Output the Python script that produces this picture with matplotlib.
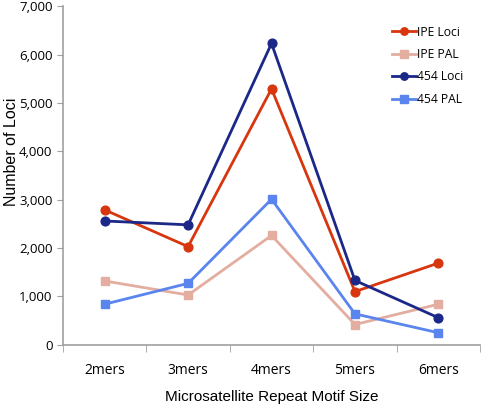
import matplotlib
matplotlib.use('Agg')
import matplotlib.pyplot as plt
from matplotlib.ticker import FuncFormatter, FixedLocator

# data
categories = ['2mers', '3mers', '4mers', '5mers', '6mers']
ipe_loci = [2790, 2030, 5290, 1100, 1690]
ipe_pal = [1320, 1030, 2260, 420, 840]
loci_454 = [2560, 2480, 6230, 1330, 560]
pal_454 = [840, 1270, 3010, 640, 250]

series = [
    ('IPE Loci', ipe_loci, '#d7360f', 'o'),
    ('IPE PAL', ipe_pal, '#e3ada0', 's'),
    ('454 Loci', loci_454, '#1b2888', 'o'),
    ('454 PAL', pal_454, '#5a84ee', 's'),
]

fig = plt.figure(figsize=(4.84, 4.11), dpi=100)
ax = fig.add_axes([0.130, 0.161, 0.862, 0.824])

x = list(range(len(categories)))
for label, vals, color, marker in series:
    ax.plot(x, vals, color=color, marker=marker, markersize=6.3, linewidth=2.0, label=label)

ax.set_xlim(-0.5, len(categories) - 0.5)
ax.set_ylim(0, 7000)
ax.set_yticks(range(0, 7001, 1000))
ax.yaxis.set_major_formatter(FuncFormatter(lambda v, p: f'{int(v):,}'))

ax.set_xticks(x)
ax.set_xticklabels(categories, fontsize=10, family='Open Sans')
ax.xaxis.set_minor_locator(FixedLocator([i - 0.5 for i in range(len(categories) + 1)]))
ax.tick_params(axis='x', which='major', length=0, pad=13)
ax.tick_params(axis='x', which='minor', length=5, color='#a0a0a0')
ax.tick_params(axis='y', length=4, color='#a0a0a0', labelsize=9.5)
for t in ax.get_yticklabels():
    t.set_family('Open Sans')

for s in ['top', 'right']:
    ax.spines[s].set_visible(False)
for s in ['left', 'bottom']:
    ax.spines[s].set_color('#a0a0a0')
    ax.spines[s].set_linewidth(1.2)

ax.set_xlabel('Microsatellite Repeat Motif Size', fontsize=11, family='Liberation Sans', va='center')
ax.xaxis.set_label_coords(0.5, -52 / 339)
ax.set_ylabel('Number of Loci', fontsize=11.5, family='Liberation Sans', va='center')
ax.yaxis.set_label_coords(-51 / 417, 0.57)

leg = ax.legend(loc='upper right', bbox_to_anchor=(0.985, 0.975), frameon=False,
                handlelength=2.0, handletextpad=0.05, labelspacing=0.78,
                markerscale=0.85, prop={'family': 'Open Sans', 'size': 8.7})

fig.savefig('out.png', dpi=100)
